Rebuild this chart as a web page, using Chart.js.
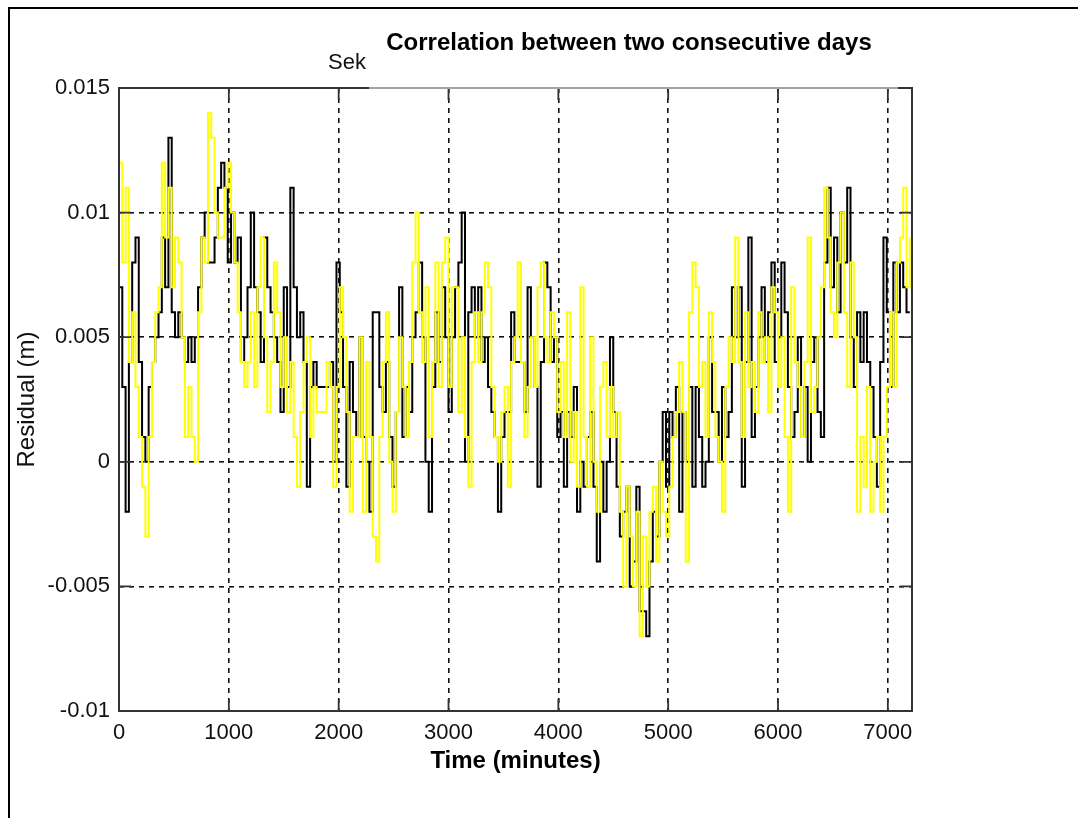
<!DOCTYPE html>
<html>
<head>
<meta charset="utf-8">
<title>Correlation between two consecutive days</title>
<script src="https://cdn.jsdelivr.net/npm/chart.js@4.4.1/dist/chart.umd.min.js"></script>
<style>
    html, body { margin: 0; padding: 0; background: #fff; overflow: hidden; }
    #wrap { position: relative; width: 1078px; height: 818px; }
    #residualChart { position: absolute; left: 0; top: 0; }
    #frame {
        position: absolute; left: 8px; top: 7px; width: 1100px; height: 840px;
        border-top: 2px solid #000; border-left: 2px solid #000; pointer-events: none;
    }
    #oldTitle {
        position: absolute; left: 328px; top: 51px;
        font: 22px "Liberation Sans", Arial, sans-serif; line-height: 22px; color: #111;
    }
    #titleBox {
        position: absolute; left: 369px; top: 10px; width: 529px; height: 79px;
        background: linear-gradient(to bottom, #fff 0, #fff 77px, rgba(255,255,255,0.55) 77px);
    }
    #chartTitle {
        position: absolute; left: 369px; top: 30px; width: 520px; text-align: center;
        font: bold 24px "Liberation Sans", Arial, sans-serif; line-height: 24px; color: #000;
    }
</style>
</head>
<body>
<div id="wrap">
    <canvas id="residualChart" width="1078" height="818"></canvas>
    <div id="oldTitle">Sek</div>
    <div id="titleBox"></div>
    <div id="chartTitle">Correlation between two consecutive days</div>
    <div id="frame"></div>
</div>
<script>
// one sample every 30 minutes, residuals in millimetres
const sampleMinutes = 30;

const dayOneMm = [
    7, 3, -2, 4, 8, 9, 4, 1, 0, 3, 4, 5, 6, 9, 7, 13, 6, 5, 6, 5,
    4, 5, 4, 5, 7, 9, 10, 8, 8, 9, 11, 12, 11, 8, 10, 8, 9, 4, 5, 7,
    10, 7, 6, 4, 9, 7, 6, 5, 4, 2, 7, 3, 11, 7, 5, 6, 4, -1, 3, 4, 3,
    3, 3, 3, 4, 0, 8, 6, 3, -1, 4, 2, 1, 5, 1, 0, -2, 6, 6, 3, 2,
    4, 1, -1, 2, 7, 1, 3, 2, 5, 6, 8, 5, 0, -2, 3, 6, 4, 7, 5, 2,
    5, 7, 8, 10, 0, 6, 7, 5, 7, 4, 5, 3, 2, 1, -2, 1, 2, 2, 6, 4,
    4, 4, 2, 7, 5, 3, -1, 4, 8, 7, 4, 5, 1, 2, -1, 2, 1, 3, -2, 0,
    -1, 1, 2, -1, -4, 0, -2, 0, 5, 2, -1, -3, -2, -1, -5, -4, -1, -6, -6, -7,
    -4, -2, -3, 0, 2, -1, 2, 1, 3, -2, 2, 0, 3, -1, 3, 1, -1, 0, 5, 2,
    2, 0, 3, 1, 2, 7, 5, 7, -1, 4, 9, 1, 3, 5, 7, 4, 6, 8, 4, 5,
    8, 6, 3, 1, 2, 5, 1, 3, 0, 4, 5, 2, 1, 8, 11, 7, 9, 6, 10, 8,
    11, 5, 3, 6, 4, 6, 4, 3, 1, -1, 4, 9, 6, 3, 8, 6, 8, 7, 6, 6
];

const dayTwoMm = [
    12, 8, 11, 4, 6, 3, 1, -1, -3, 1, 4, 6, 7, 12, 9, 11, 7, 9, 8, 5,
    1, 3, 1, 0, 6, 9, 8, 14, 13, 10, 9, 9, 11, 12, 10, 8, 6, 4, 3, 4,
    6, 3, 7, 9, 5, 2, 4, 8, 6, 3, 5, 2, 4, 1, -1, 2, 4, 5, 1, 3, 2,
    2, 2, 4, 3, -1, 3, 7, 5, 2, -2, 1, 1, 5, -2, 4, 1, -3, -4, 1, 4,
    6, 0, -2, 2, 5, 3, 1, 4, 8, 10, 6, 4, 7, 1, 4, 8, 3, 8, 9, 3,
    7, 7, 2, 5, 1, -1, 4, 6, 4, 6, 8, 7, 3, 1, 0, 2, 3, -1, 4, 5,
    8, 4, 1, 3, 5, 3, 7, 8, 5, 4, 6, 5, 2, 4, 1, 6, 0, 2, -1, 7,
    1, -1, 5, 0, -2, 3, 4, 1, 3, 1, 2, -2, -5, -1, -3, -5, -2, -7, -3, -5,
    -2, -1, -4, 0, -2, -3, -1, 1, 2, 4, 2, -4, 6, 8, 7, 3, 4, 1, 6, 4,
    1, 0, -2, 3, 5, 4, 9, 4, 1, 6, 3, 4, 2, 6, 4, 5, 2, 7, 6, 3,
    5, 1, -2, 7, 4, 3, 1, 4, 9, 2, 3, 5, 7, 11, 9, 6, 5, 8, 10, 6,
    3, 8, 5, -2, 1, -1, 3, -2, 0, 1, -2, 1, 3, 6, 3, 8, 9, 11, 7, 9
];

const xTicks = [0, 1000, 2000, 3000, 4000, 5000, 6000, 7000];
const xTickLabels = ['0', '1000', '2000', '3000', '4000', '5000', '6000', '7000'];
const yTicks = [-0.01, -0.005, 0, 0.005, 0.01, 0.015];
const yTickLabels = ['-0.01', '-0.005', '0', '0.005', '0.01', '0.015'];

document.addEventListener('DOMContentLoaded', function() {
    drawResidualChart();
});

function toPoints(valuesMm) {
    return valuesMm.map((v, i) => ({ x: i * sampleMinutes, y: v / 1000 }));
}

// box round the axes plus the short inward ticks, like matlab
const boxPlugin = {
    id: 'axesBox',
    afterDatasetsDraw(chart) {
        const { ctx, chartArea: a, scales } = chart;
        const len = 12;
        ctx.save();
        ctx.strokeStyle = '#333';
        ctx.lineWidth = 1.8;
        ctx.beginPath();
        xTicks.forEach(v => {
            const px = scales.x.getPixelForValue(v);
            ctx.moveTo(px, a.bottom); ctx.lineTo(px, a.bottom - len);
            ctx.moveTo(px, a.top); ctx.lineTo(px, a.top + len);
        });
        yTicks.forEach(v => {
            const py = scales.y.getPixelForValue(v);
            ctx.moveTo(a.left, py); ctx.lineTo(a.left + len, py);
            ctx.moveTo(a.right, py); ctx.lineTo(a.right - len, py);
        });
        ctx.stroke();
        ctx.lineWidth = 2;
        ctx.strokeRect(a.left, a.top, a.right - a.left, a.bottom - a.top);
        ctx.restore();
    }
};

function drawResidualChart() {
    const ctx = document.getElementById('residualChart').getContext('2d');
    const tickFont = { family: '"Liberation Sans", Arial, sans-serif', size: 22 };
    const titleFont = { family: '"Liberation Sans", Arial, sans-serif', size: 24 };

    const chart = new Chart(ctx, {
        type: 'line',
        data: {
            datasets: [{
                label: 'Day 2',
                data: toPoints(dayTwoMm),
                borderColor: '#ffff00',
                borderWidth: 2,
                stepped: true,
                pointRadius: 0,
                order: 0
            }, {
                label: 'Day 1',
                data: toPoints(dayOneMm),
                borderColor: '#000000',
                borderWidth: 2,
                stepped: true,
                pointRadius: 0,
                order: 1
            }]
        },
        options: {
            responsive: false,
            animation: false,
            layout: { padding: { left: 0, top: 88, right: 166, bottom: 0 } },
            plugins: {
                legend: { display: false },
                tooltip: { enabled: false }
            },
            scales: {
                x: {
                    type: 'linear',
                    min: 0,
                    max: 7220,
                    afterBuildTicks: scale => { scale.ticks = xTicks.map(v => ({ value: v })); },
                    afterFit: scale => { scale.height = 107; },
                    grid: { color: '#111', lineWidth: 1.6, drawTicks: false },
                    border: { display: false, dash: [5, 5] },
                    ticks: {
                        font: tickFont,
                        color: '#111',
                        padding: 9,
                        maxRotation: 0,
                        callback: (value, index) => xTickLabels[index]
                    },
                    title: {
                        display: true,
                        text: 'Time (minutes)',
                        font: Object.assign({ weight: 'bold' }, titleFont),
                        color: '#000',
                        padding: { top: 0, bottom: 42 }
                    }
                },
                y: {
                    min: -0.01,
                    max: 0.015,
                    afterBuildTicks: scale => { scale.ticks = yTicks.map(v => ({ value: v })); },
                    afterFit: scale => { scale.width = 119; },
                    grid: { color: '#111', lineWidth: 1.6, drawTicks: false },
                    border: { display: false, dash: [5, 5] },
                    ticks: {
                        font: tickFont,
                        color: '#111',
                        padding: 9,
                        callback: (value, index) => yTickLabels[index]
                    },
                    title: {
                        display: true,
                        text: 'Residual (m)',
                        font: titleFont,
                        color: '#111',
                        padding: { top: 13, bottom: 0 }
                    }
                }
            }
        },
        plugins: [boxPlugin]
    });

    window.residualChart = chart;
}
</script>
</body>
</html>
